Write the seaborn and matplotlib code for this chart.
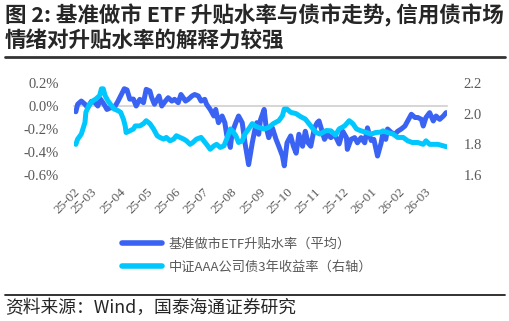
import pandas as pd
import matplotlib
matplotlib.use('Agg')
import matplotlib.pyplot as plt
import matplotlib.dates as mdates
from matplotlib.ticker import FuncFormatter
import seaborn as sns

# ETF premium/discount rate (%)
etf_dates = [
    '2025-02-03', '2025-02-05', '2025-02-09', '2025-02-13', '2025-02-16', '2025-02-20', '2025-02-24', '2025-02-27',
    '2025-03-02', '2025-03-07', '2025-03-09', '2025-03-13', '2025-03-17', '2025-03-21', '2025-03-24', '2025-03-28',
    '2025-03-31', '2025-04-03', '2025-04-07', '2025-04-10', '2025-04-14', '2025-04-18', '2025-04-21', '2025-04-25',
    '2025-04-27', '2025-04-30', '2025-05-05', '2025-05-08', '2025-05-12', '2025-05-15', '2025-05-19', '2025-05-22',
    '2025-05-26', '2025-05-29', '2025-06-03', '2025-06-06', '2025-06-10', '2025-06-13', '2025-06-17', '2025-06-20',
    '2025-06-24', '2025-06-26', '2025-06-30', '2025-07-04', '2025-07-06', '2025-07-09', '2025-07-13', '2025-07-16',
    '2025-07-18', '2025-07-20', '2025-07-22', '2025-07-24', '2025-07-28', '2025-07-31', '2025-08-04', '2025-08-07',
    '2025-08-11', '2025-08-15', '2025-08-18', '2025-08-20', '2025-08-22', '2025-08-24', '2025-08-28', '2025-08-30',
    '2025-09-02', '2025-09-06', '2025-09-10', '2025-09-13', '2025-09-17', '2025-09-19', '2025-09-22', '2025-09-26',
    '2025-09-29', '2025-10-02', '2025-10-05', '2025-10-09', '2025-10-12', '2025-10-15', '2025-10-18', '2025-10-22',
    '2025-10-25', '2025-10-27', '2025-11-02', '2025-11-05', '2025-11-09', '2025-11-13', '2025-11-18', '2025-11-22',
    '2025-11-26', '2025-11-27', '2025-12-01', '2025-12-05', '2025-12-08', '2025-12-12', '2025-12-16', '2025-12-19',
    '2025-12-23', '2025-12-26', '2025-12-30', '2026-01-03', '2026-01-05', '2026-01-08', '2026-01-10', '2026-01-14',
    '2026-01-18', '2026-01-21', '2026-01-25', '2026-01-29', '2026-02-01', '2026-02-05', '2026-02-09', '2026-02-12',
    '2026-02-16', '2026-02-18', '2026-02-21', '2026-02-25', '2026-03-01', '2026-03-04', '2026-03-08', '2026-03-12',
    '2026-03-15',
]
etf_premium = [
    -0.05, 0.015, 0.043, 0.015, -0.015, 0.04, 0.03, 0.0,
    0.06, 0.0, -0.03, -0.015, -0.015, 0.04, 0.087, 0.15,
    0.14, 0.06, 0.06, 0.0, 0.058, 0.029, 0.145, 0.13,
    0.072, 0.015, 0.087, 0.0, 0.043, 0.072, 0.043, 0.058,
    0.029, 0.10, 0.043, 0.058, 0.087, 0.10, 0.087, 0.043,
    0.058, 0.015, -0.03, -0.087, -0.03, -0.145, -0.087, -0.145,
    -0.25, -0.30, -0.36, -0.23, -0.145, -0.087, -0.145, -0.32,
    -0.51, -0.32, -0.20, -0.145, -0.246, -0.12, -0.03, -0.174,
    -0.275, -0.19, -0.29, -0.35, -0.435, -0.52, -0.32, -0.26,
    -0.35, -0.41, -0.246, -0.35, -0.22, -0.32, -0.35, -0.19,
    -0.145, -0.13, -0.29, -0.246, -0.275, -0.246, -0.33, -0.22,
    -0.275, -0.377, -0.29, -0.275, -0.32, -0.275, -0.32, -0.19,
    -0.30, -0.29, -0.435, -0.32, -0.23, -0.29, -0.20, -0.23,
    -0.246, -0.22, -0.20, -0.174, -0.13, -0.072, -0.10, -0.10,
    -0.116, -0.174, -0.10, -0.058, -0.13, -0.087, -0.116, -0.087,
    -0.058,
]

# CSI AAA corporate bond 3Y yield (%), right axis
bond_dates = [
    '2025-02-03', '2025-02-05', '2025-02-09', '2025-02-13', '2025-02-14', '2025-02-18', '2025-02-22', '2025-02-25',
    '2025-03-01', '2025-03-03', '2025-03-05', '2025-03-07', '2025-03-10', '2025-03-14', '2025-03-17', '2025-03-21',
    '2025-03-24', '2025-03-27', '2025-03-29', '2025-03-30', '2025-04-03', '2025-04-07', '2025-04-09', '2025-04-14',
    '2025-04-18', '2025-04-21', '2025-04-25', '2025-04-29', '2025-05-03', '2025-05-06', '2025-05-10', '2025-05-13',
    '2025-05-17', '2025-05-21', '2025-05-24', '2025-05-28', '2025-06-01', '2025-06-04', '2025-06-08', '2025-06-11',
    '2025-06-15', '2025-06-20', '2025-06-26', '2025-06-30', '2025-07-04', '2025-07-07', '2025-07-11', '2025-07-15',
    '2025-07-18', '2025-07-22', '2025-07-24', '2025-07-28', '2025-07-31', '2025-08-04', '2025-08-07', '2025-08-11',
    '2025-08-15', '2025-08-18', '2025-08-22', '2025-08-28', '2025-09-02', '2025-09-07', '2025-09-13', '2025-09-17',
    '2025-09-19', '2025-09-22', '2025-09-26', '2025-10-02', '2025-10-07', '2025-10-12', '2025-10-18', '2025-10-23',
    '2025-10-28', '2025-11-04', '2025-11-09', '2025-11-14', '2025-11-18', '2025-11-24', '2025-11-29', '2025-12-03',
    '2025-12-07', '2025-12-12', '2025-12-18', '2025-12-23', '2025-12-28', '2026-01-03', '2026-01-05', '2026-01-10',
    '2026-01-16', '2026-01-21', '2026-01-27', '2026-02-01', '2026-02-06', '2026-02-12', '2026-02-18', '2026-02-21',
    '2026-02-25', '2026-03-01', '2026-03-06', '2026-03-12', '2026-03-15',
]
bond_yield = [
    1.80, 1.834, 1.867, 1.943, 2.009, 2.063, 2.085, 2.096,
    2.118, 2.162, 2.162, 2.118, 2.085, 2.052, 2.03, 2.02,
    2.009, 1.965, 1.92, 1.877, 1.888, 1.90, 1.92, 1.92,
    1.935, 1.954, 1.935, 1.90, 1.856, 1.845, 1.834, 1.845,
    1.823, 1.834, 1.856, 1.845, 1.834, 1.823, 1.80, 1.812,
    1.834, 1.845, 1.80, 1.768, 1.79, 1.80, 1.78, 1.79,
    1.834, 1.90, 1.89, 1.856, 1.812, 1.823, 1.867, 1.90,
    1.935, 1.92, 1.91, 1.90, 1.91, 1.935, 1.954, 1.987,
    2.03, 2.03, 2.009, 2.0, 1.98, 1.965, 1.92, 1.88,
    1.867, 1.89, 1.888, 1.86, 1.90, 1.92, 1.954, 1.935,
    1.90, 1.888, 1.877, 1.867, 1.877, 1.88, 1.888, 1.877,
    1.867, 1.845, 1.845, 1.823, 1.812, 1.812, 1.80, 1.823,
    1.80, 1.80, 1.80, 1.79, 1.785,
]

etf_label = '基准做市ETF升贴水率（平均）'
bond_label = '中证AAA公司债3年收益率（右轴）'
BLUE = '#3a63f3'
CYAN = '#00c8ff'
GRAY = '#595959'

sns.set_theme(style='white')
plt.rcParams['font.family'] = ['Noto Sans CJK SC', 'DejaVu Sans']
plt.rcParams['axes.unicode_minus'] = False

fig = plt.figure(figsize=(5.09, 3.21), dpi=100)
ax = fig.add_axes([74 / 509, 1 - 175 / 321, 373 / 509, 92 / 321])
ax2 = ax.twinx()

sns.lineplot(x=pd.to_datetime(etf_dates), y=etf_premium, ax=ax, color=BLUE,
             linewidth=3.6, label=etf_label, legend=False)
sns.lineplot(x=pd.to_datetime(bond_dates), y=bond_yield, ax=ax2, color=CYAN,
             linewidth=3.6, label=bond_label, legend=False)

ax.set_xlim(pd.Timestamp('2025-02-01'), pd.Timestamp('2026-03-16'))
ax.set_ylim(-0.6, 0.2)
ax.set_yticks([-0.6, -0.4, -0.2, 0.0, 0.2])
ax2.set_ylim(1.6, 2.2)
ax2.set_yticks([1.6, 1.8, 2.0, 2.2])
ax.set_xlabel('')
ax.set_ylabel('')
ax2.set_ylabel('')

for a in (ax, ax2):
    for s in a.spines.values():
        s.set_visible(False)

# category axis sits on the zero line, with small ticks
ax.spines['bottom'].set_visible(True)
ax.spines['bottom'].set_position(('data', 0))
ax.spines['bottom'].set_color('#d0d0d0')
ax.spines['bottom'].set_linewidth(1.2)
ax.spines['bottom'].set_zorder(0)
ax.xaxis.set_major_locator(mdates.MonthLocator())
ax.tick_params(axis='x', direction='out', length=4, width=1, color='#d0d0d0', labelbottom=False)

sec = ax.secondary_xaxis('bottom')
sec.xaxis.set_major_locator(mdates.MonthLocator())
sec.xaxis.set_major_formatter(mdates.DateFormatter('%y-%m'))
for s in sec.spines.values():
    s.set_visible(False)
sec.tick_params(axis='x', length=0, pad=8, labelsize=9.5, labelcolor=GRAY)
for lbl in sec.get_xticklabels():
    lbl.set_rotation(45)
    lbl.set_ha('right')
    lbl.set_rotation_mode('anchor')
    lbl.set_family('Liberation Serif')

ax.yaxis.set_major_formatter(FuncFormatter(lambda v, p: f'{v:.1f}%'.replace('-0.0%', '0.0%')))
ax2.yaxis.set_major_formatter(FuncFormatter(lambda v, p: f'{v:.1f}'))
ax.tick_params(axis='y', length=0, pad=11, labelsize=10.5, labelcolor=GRAY)
ax2.tick_params(axis='y', length=0, pad=12, labelsize=10.5, labelcolor=GRAY)
for lbl in ax.get_yticklabels() + ax2.get_yticklabels():
    lbl.set_family('Liberation Serif')
ax.grid(False)
ax2.grid(False)

handles = ax.get_lines()[:1] + ax2.get_lines()[:1]
leg = fig.legend(handles, [etf_label, bond_label], loc='center',
                 bbox_to_anchor=(247 / 509, 1 - 256 / 321), frameon=False,
                 handlelength=3.0, handletextpad=0.5, labelspacing=0.75,
                 prop={'size': 9.5})
for t in leg.get_texts():
    t.set_color(GRAY)
for h in leg.legend_handles:
    h.set_linewidth(4)

# title, rules and source
fig.text(5 / 509, 1 - 15 / 321, '图 2: 基准做市 ETF 升贴水率与债市走势, 信用债市场',
         fontsize=15.5, fontweight='bold', va='center', ha='left')
fig.text(5 / 509, 1 - 40 / 321, '情绪对升贴水率的解释力较强',
         fontsize=15.5, fontweight='bold', va='center', ha='left')
fig.add_artist(plt.Line2D([5 / 509, 505 / 509], [1 - 57 / 321] * 2, color='#333333', linewidth=2))
fig.add_artist(plt.Line2D([5 / 509, 505 / 509], [1 - 295 / 321] * 2, color='#222222', linewidth=1.3))
fig.text(5 / 509, 1 - 308 / 321, '资料来源：Wind，国泰海通证券研究',
         fontsize=12.8, va='center', ha='left')

fig.savefig('out.png', dpi=100)
